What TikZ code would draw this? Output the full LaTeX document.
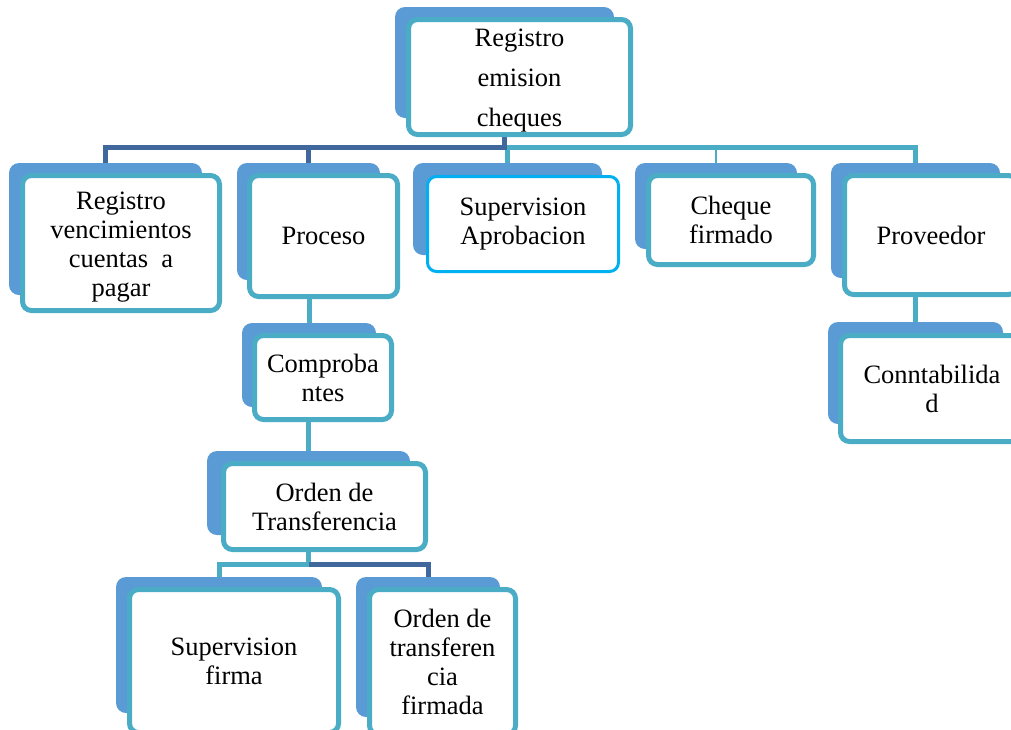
\documentclass[tikz,border=0pt]{standalone}
\usepackage{fontspec}
\setmainfont{Liberation Serif}
\usetikzlibrary{backgrounds}
\definecolor{backblue}{HTML}{5B9BD5}
\definecolor{tealc}{HTML}{4BACC6}
\definecolor{darkc}{HTML}{41689C}
\definecolor{cyanc}{HTML}{00B0F0}
\newcommand\boxfont{\fontsize{26.5}{29}\selectfont}
\newcommand\rootfont{\fontsize{26.5}{40}\selectfont}
\begin{document}
\begin{tikzpicture}[x=1pt,y=-1pt,
  backbox/.style={fill=backblue, rounded corners=10pt, inner sep=0pt},
  frontbox/.style={draw=tealc, line width=5pt, fill=white, rounded corners=9pt, inner sep=0pt, align=center, font=\boxfont},
  selbox/.style={frontbox, draw=cyanc, line width=3pt},
  dk/.style={draw=darkc, line width=5pt},
  tl/.style={draw=tealc, line width=5pt},
  tlthin/.style={draw=tealc, line width=1.5pt}]
\useasboundingbox (0,0) rectangle (1011,729);

% root
\node[backbox, minimum width=219pt, minimum height=111pt] (rootb) at (504.5,62.5) {};
\node[frontbox, font=\rootfont, minimum width=222pt, minimum height=115pt] (root) at (519.5,77) {\rule{0pt}{24pt}Registro\\ emision\\cheques};

% level 1
\node[backbox, minimum width=193pt, minimum height=132pt] (rvb) at (105.5,229) {};
\node[frontbox, minimum width=197pt, minimum height=135pt] (rv) at (121,243) {\rule{0pt}{26pt}Registro\\vencimientos\\cuentas \ a\\pagar};

\node[backbox, minimum width=143pt, minimum height=117pt] (prb) at (308.5,221.5) {};
\node[frontbox, minimum width=148pt, minimum height=121pt] (pr) at (323.5,236) {Proceso};

\node[backbox, minimum width=189pt, minimum height=92pt] (sab) at (507.5,209) {};
\node[selbox, minimum width=191pt, minimum height=95pt] (sa) at (523,224) {Supervision\\Aprobacion};

\node[backbox, minimum width=162pt, minimum height=86pt] (cfb) at (716,206) {};
\node[frontbox, minimum width=165pt, minimum height=89pt] (cf) at (731,220) {Cheque\\firmado};

\node[backbox, minimum width=169pt, minimum height=115pt] (pvb) at (915.5,220.5) {};
\node[frontbox, minimum width=173pt, minimum height=119pt] (pv) at (931,235) {Proveedor};

% lower levels
\node[backbox, minimum width=134pt, minimum height=84pt] (cpb) at (309,365) {};
\node[frontbox, minimum width=137pt, minimum height=84pt] (cp) at (323,377.5) {Comproba\\ntes};

\node[backbox, minimum width=203pt, minimum height=84pt] (otb) at (308.5,493) {};
\node[frontbox, minimum width=202pt, minimum height=86pt] (ot) at (324.5,506.5) {Orden de\\Transferencia};

\node[backbox, minimum width=175pt, minimum height=102pt] (cob) at (915.5,373) {};
\node[frontbox, minimum width=183pt, minimum height=106pt] (co) at (932,388.5) {Conntabilida\\d};

\node[backbox, minimum width=206pt, minimum height=136pt] (sfb) at (219,645) {};
\node[frontbox, minimum width=209pt, minimum height=143pt] (sf) at (234,661) {Supervision\\firma};

\node[backbox, minimum width=144pt, minimum height=140pt] (ofb) at (428,647) {};
\node[frontbox, minimum width=146pt, minimum height=145pt] (of) at (442.5,662) {Orden de\\transferen\\cia\\firmada};

% connectors
\begin{pgfonlayer}{background}
\coordinate (busy) at (0,147);
\coordinate (j1) at (rootb.south |- busy);
\draw[tl] (j1) -| (sab.north);
\draw[tl] (j1) -| (pvb.north);
\draw[tlthin] (j1 -| cfb.north) -- (cfb.north);
\draw[dk] (rootb.south |- root.south) -- (j1) -| (rvb.north);
\draw[dk] (j1) -| (prb.north);
\draw[tl] (cpb.north |- pr.south) -- (cpb.north);
\draw[tl] (otb.north |- cp.south) -- (otb.north);
\coordinate (busy2) at (0,564);
\coordinate (j2) at (otb.north |- busy2);
\draw[tl] (otb.north |- ot.south) -- (j2) -| (sfb.north);
\draw[dk] (j2) -| (ofb.north);
\draw[tl] (cob.north |- pv.south) -- (cob.north);
\end{pgfonlayer}
\end{tikzpicture}
\end{document}
